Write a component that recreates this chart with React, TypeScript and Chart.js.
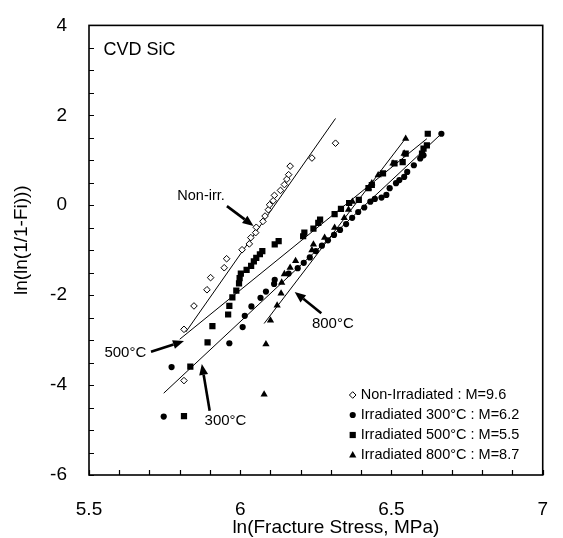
import React, { useEffect, useRef } from 'react';
import { Chart, registerables } from 'chart.js';

Chart.register(...registerables);

const W = 563;
const H = 538;

// Non-irradiated (open diamonds)
const nonIrrX = [5.814, 5.814, 5.847, 5.890, 5.902, 5.947, 5.955, 6.006, 6.030, 6.035, 6.051, 6.053, 6.075, 6.082, 6.093, 6.097, 6.109, 6.113, 6.133, 6.146, 6.154, 6.160, 6.165, 6.237, 6.315];
const nonIrrY = [-3.90, -2.76, -2.24, -1.88, -1.61, -1.39, -1.19, -0.99, -0.86, -0.72, -0.61, -0.49, -0.36, -0.24, -0.10, 0.01, 0.10, 0.22, 0.33, 0.46, 0.58, 0.68, 0.87, 1.05, 1.38];

// Irradiated 300°C (filled circles)
const irr300X = [5.747, 5.773, 5.964, 6.008, 6.015, 6.037, 6.067, 6.085, 6.112, 6.114, 6.160, 6.190, 6.210, 6.230, 6.250, 6.270, 6.290, 6.310, 6.330, 6.350, 6.370, 6.390, 6.410, 6.430, 6.445, 6.467, 6.483, 6.494, 6.515, 6.526, 6.542, 6.552, 6.574, 6.595, 6.606, 6.665];
const irr300Y = [-4.70, -3.60, -3.07, -2.71, -2.46, -2.25, -2.06, -1.92, -1.75, -1.66, -1.52, -1.40, -1.28, -1.16, -1.02, -0.90, -0.78, -0.66, -0.55, -0.42, -0.28, -0.15, -0.05, 0.08, 0.14, 0.17, 0.23, 0.38, 0.49, 0.56, 0.63, 0.74, 0.89, 1.04, 1.11, 1.59];

// Irradiated 500°C (filled squares)
const irr500X = [5.814, 5.835, 5.892, 5.908, 5.960, 5.964, 5.974, 5.987, 5.996, 5.998, 6.002, 6.021, 6.036, 6.045, 6.053, 6.065, 6.073, 6.114, 6.127, 6.208, 6.212, 6.242, 6.258, 6.264, 6.312, 6.333, 6.360, 6.392, 6.424, 6.435, 6.472, 6.510, 6.537, 6.547, 6.601, 6.606, 6.617, 6.620];
const irr500Y = [-4.69, -3.59, -3.05, -2.69, -2.43, -2.24, -2.05, -1.90, -1.74, -1.62, -1.52, -1.44, -1.35, -1.25, -1.17, -1.09, -1.02, -0.87, -0.80, -0.69, -0.61, -0.52, -0.39, -0.32, -0.20, -0.08, 0.05, 0.12, 0.38, 0.45, 0.71, 0.93, 0.96, 1.15, 1.15, 1.26, 1.33, 1.59];

// Irradiated 800°C (filled triangles)
const irr800X = [6.079, 6.085, 6.100, 6.122, 6.135, 6.137, 6.146, 6.165, 6.183, 6.237, 6.242, 6.279, 6.312, 6.344, 6.358, 6.371, 6.424, 6.435, 6.456, 6.505, 6.542, 6.547];
const irr800Y = [-4.21, -3.09, -2.56, -2.23, -1.96, -1.72, -1.53, -1.39, -1.24, -1.00, -0.87, -0.72, -0.50, -0.28, -0.10, 0.08, 0.38, 0.49, 0.67, 0.93, 1.15, 1.48];

// Weibull fit lines (end points)
const fitNonIrrX = [5.82, 6.315];
const fitNonIrrY = [-2.82, 1.93];
const fit300X = [5.747, 6.665];
const fit300Y = [-4.18, 1.59];
const fit500X = [5.80, 6.617];
const fit500Y = [-2.98, 1.48];
const fit800X = [6.079, 6.547];
const fit800Y = [-2.63, 1.49];

const seriesLabels = [
  'Non-Irradiated : M=9.6',
  'Irradiated 300°C : M=6.2',
  'Irradiated 500°C : M=5.5',
  'Irradiated 800°C : M=8.7',
];

const xTickLabels = [5.5, 6, 6.5, 7];
const yTickLabels = [-6, -4, -2, 0, 2, 4];
const xTitle = 'ln(Fracture Stress, MPa)';
const yTitle = 'ln(ln(1/1-Fi)))';

// annotations (in data units)
const noteTexts = ['CVD SiC', 'Non-irr.', '500°C', '300°C', '800°C'];
const noteX = [5.548, 5.792, 5.551, 5.882, 6.237];
const noteY = [3.46, 0.20, -3.28, -4.79, -2.63];
const noteSize = [18, 14.5, 15, 15, 15];

const arrowFromX = [5.956, 5.705, 5.899, 6.268];
const arrowFromY = [-0.02, -3.26, -4.57, -2.40];
const arrowToX = [6.044, 5.814, 5.873, 6.180];
const arrowToY = [-0.46, -3.02, -3.53, -1.93];

const FONT = "'Liberation Sans', Arial, Helvetica, sans-serif";

const pts = (xs: number[], ys: number[]) => xs.map((x, i) => ({ x, y: ys[i] }));

function drawMarker(ctx: CanvasRenderingContext2D, style: string, x: number, y: number) {
  ctx.save();
  ctx.fillStyle = '#000';
  ctx.strokeStyle = '#000';
  ctx.lineWidth = 1;
  ctx.beginPath();
  if (style === 'rectRot') {
    const r = 3.3;
    ctx.moveTo(x, y - r);
    ctx.lineTo(x + r, y);
    ctx.lineTo(x, y + r);
    ctx.lineTo(x - r, y);
    ctx.closePath();
    ctx.fillStyle = '#fff';
    ctx.fill();
    ctx.stroke();
  } else if (style === 'circle') {
    ctx.arc(x, y, 3.1, 0, Math.PI * 2);
    ctx.fill();
  } else if (style === 'rect') {
    ctx.rect(x - 3.1, y - 3.1, 6.2, 6.2);
    ctx.fill();
  } else {
    ctx.moveTo(x, y - 4.0);
    ctx.lineTo(x + 3.6, y + 2.4);
    ctx.lineTo(x - 3.6, y + 2.4);
    ctx.closePath();
    ctx.fill();
  }
  ctx.restore();
}

const decorPlugin = {
  id: 'decor',
  afterDraw(chart: any) {
    const { ctx, chartArea } = chart;
    const xs = chart.scales.x;
    const ys = chart.scales.y;
    const { left, right, top, bottom } = chartArea;
    ctx.save();
    // frame
    ctx.strokeStyle = '#000';
    ctx.lineWidth = 1.6;
    ctx.strokeRect(left, top, right - left, bottom - top);
    // inward ticks
    ctx.lineWidth = 1.2;
    ctx.beginPath();
    for (let i = 0; i <= 20; i++) {
      const v = -6 + i * 0.5;
      const py = Math.round(ys.getPixelForValue(v)) + 0.5;
      ctx.moveTo(left, py);
      ctx.lineTo(left + 5, py);
    }
    for (let i = 0; i <= 15; i++) {
      const v = 5.5 + i * 0.1;
      const px = Math.round(xs.getPixelForValue(v)) + 0.5;
      ctx.moveTo(px, bottom);
      ctx.lineTo(px, bottom - 5);
    }
    ctx.stroke();

    // axis titles
    ctx.fillStyle = '#000';
    ctx.font = `19px ${FONT}`;
    ctx.textAlign = 'center';
    ctx.textBaseline = 'middle';
    ctx.fillText(xTitle, (left + right) / 2 + 20, 528);
    ctx.save();
    ctx.translate(22, (top + bottom) / 2 - 10);
    ctx.rotate(-Math.PI / 2);
    ctx.fillText(yTitle, 0, 0);
    ctx.restore();

    // annotation texts
    ctx.textBaseline = 'middle';
    ctx.textAlign = 'left';
    noteTexts.forEach((t, i) => {
      ctx.font = `${noteSize[i]}px ${FONT}`;
      ctx.fillText(t, xs.getPixelForValue(noteX[i]), ys.getPixelForValue(noteY[i]));
    });

    // arrows
    arrowFromX.forEach((_, i) => {
      const x1 = xs.getPixelForValue(arrowFromX[i]);
      const y1 = ys.getPixelForValue(arrowFromY[i]);
      const x2 = xs.getPixelForValue(arrowToX[i]);
      const y2 = ys.getPixelForValue(arrowToY[i]);
      const ang = Math.atan2(y2 - y1, x2 - x1);
      const hl = 11;
      const hw = 4.5;
      const bx = x2 - hl * Math.cos(ang);
      const by = y2 - hl * Math.sin(ang);
      ctx.lineWidth = 2.6;
      ctx.beginPath();
      ctx.moveTo(x1, y1);
      ctx.lineTo(bx, by);
      ctx.stroke();
      ctx.beginPath();
      ctx.moveTo(x2, y2);
      ctx.lineTo(bx + hw * Math.sin(ang), by - hw * Math.cos(ang));
      ctx.lineTo(bx - hw * Math.sin(ang), by + hw * Math.cos(ang));
      ctx.closePath();
      ctx.fill();
    });

    // legend
    const styles = ['rectRot', 'circle', 'rect', 'triangle'];
    ctx.font = `14.5px ${FONT}`;
    const tx = right - 182;
    styles.forEach((s, i) => {
      const ry = bottom - 80 + i * 20;
      drawMarker(ctx, s, tx - 8, ry);
      ctx.fillStyle = '#000';
      ctx.fillText(seriesLabels[i], tx, ry);
    });
    ctx.restore();
  },
};

export default function App() {
  const ref = useRef<HTMLCanvasElement>(null);
  useEffect(() => {
    document.body.style.margin = '0';
    const canvas = ref.current;
    if (!canvas) return;
    Chart.defaults.font.family = FONT;
    Chart.defaults.color = '#000';
    const lineDs = (xs: number[], ys: number[]) => ({
      type: 'line' as const,
      data: pts(xs, ys),
      showLine: true,
      borderColor: '#000',
      borderWidth: 1,
      pointRadius: 0,
      fill: false,
      tension: 0,
    });
    const chart = new Chart(canvas, {
      type: 'scatter',
      data: {
        datasets: [
          { label: seriesLabels[0], data: pts(nonIrrX, nonIrrY), pointStyle: 'rectRot', pointRadius: 3.3, backgroundColor: '#fff', borderColor: '#000', borderWidth: 1 },
          { label: seriesLabels[1], data: pts(irr300X, irr300Y), pointStyle: 'circle', pointRadius: 3.1, backgroundColor: '#000', borderColor: '#000', borderWidth: 0 },
          { label: seriesLabels[2], data: pts(irr500X, irr500Y), pointStyle: 'rect', pointRadius: 4.4, backgroundColor: '#000', borderColor: '#000', borderWidth: 0 },
          { label: seriesLabels[3], data: pts(irr800X, irr800Y), pointStyle: 'triangle', pointRadius: 4.2, backgroundColor: '#000', borderColor: '#000', borderWidth: 0 },
          lineDs(fitNonIrrX, fitNonIrrY),
          lineDs(fit300X, fit300Y),
          lineDs(fit500X, fit500Y),
          lineDs(fit800X, fit800Y),
        ] as any,
      },
      options: {
        responsive: false,
        animation: false,
        devicePixelRatio: 1,
        layout: { padding: { left: 0, right: 7, top: 22, bottom: 0 } },
        plugins: { legend: { display: false }, tooltip: { enabled: false } },
        scales: {
          x: {
            type: 'linear',
            min: 5.5,
            max: 7,
            afterFit: (s: any) => { s.height = 63; },
            afterBuildTicks: (s: any) => { s.ticks = xTickLabels.map((v) => ({ value: v })); },
            grid: { display: false },
            border: { display: false },
            ticks: { font: { size: 19 }, color: '#000', padding: 15, maxRotation: 0, autoSkip: false, callback: (v: any) => String(v) },
            title: { display: false },
          },
          y: {
            type: 'linear',
            min: -6,
            max: 4,
            afterFit: (s: any) => { s.width = 89; },
            afterBuildTicks: (s: any) => { s.ticks = yTickLabels.map((v) => ({ value: v })); },
            grid: { display: false },
            border: { display: false },
            ticks: { font: { size: 19 }, color: '#000', padding: 14, autoSkip: false, callback: (v: any) => String(v) },
            title: { display: false },
          },
        },
      } as any,
      plugins: [decorPlugin],
    });
    return () => chart.destroy();
  }, []);
  return (
    <div style={{ position: 'absolute', left: 0, top: 0, width: W, height: H, background: '#fff' }}>
      <canvas ref={ref} width={W} height={H} style={{ display: 'block', width: W, height: H }} />
    </div>
  );
}
